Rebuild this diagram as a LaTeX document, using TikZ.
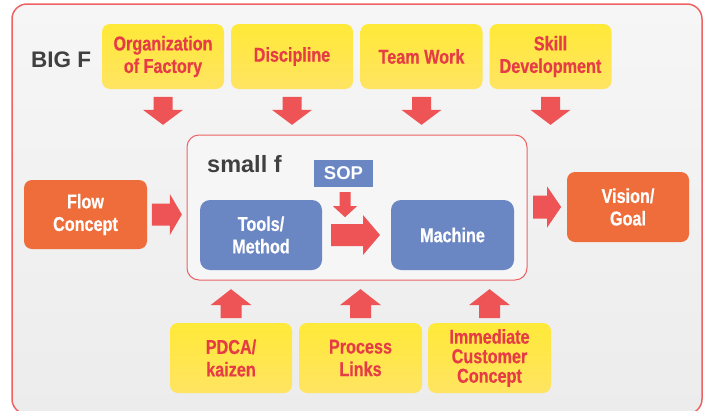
\documentclass[tikz,border=0pt]{standalone}
\usepackage{fontspec}
\setmainfont{Liberation Sans}
\newfontfamily\condf[FakeStretch=0.81,FakeBold=0.5]{Liberation Sans}
\usetikzlibrary{calc}
\definecolor{ytop}{HTML}{FFE938}
\definecolor{ybot}{HTML}{FFE462}
\definecolor{rtext}{HTML}{E63C46}
\definecolor{arrowred}{HTML}{EE5455}
\definecolor{orng}{HTML}{EE6D3A}
\definecolor{blu}{HTML}{6A86C3}
\definecolor{framered}{HTML}{EE6264}
\definecolor{dgray}{HTML}{404040}
\definecolor{bgA}{HTML}{F6F6F6}
\definecolor{bgB}{HTML}{ECECEC}
\tikzset{
  ybox/.style={rounded corners=8pt, top color=ytop, bottom color=ybot, draw=none,
    minimum width=122pt, minimum height=65pt, align=center, text=rtext, inner sep=0pt,
    font=\condf\bfseries\fontsize{20}{22.5}\selectfont},
  obox/.style={rounded corners=8pt, fill=orng, minimum width=122pt, minimum height=70pt,
    align=center, text=white, inner sep=0pt, font=\condf\bfseries\fontsize{20}{22.5}\selectfont},
  bbox/.style={rounded corners=10pt, fill=blu, minimum width=122pt, minimum height=70pt,
    align=center, text=white, inner sep=0pt, font=\condf\bfseries\fontsize{20}{22.5}\selectfont},
  title/.style={text=dgray, inner sep=0pt, anchor=base west, font=\bfseries\fontsize{22.5}{26}\selectfont},
  pics/barrow/.style args={#1/#2/#3/#4}{code={
    \fill[arrowred] (-#1/2,-#2/2) -- (#1/2-#4,-#2/2) -- (#1/2-#4,-#3/2) -- (#1/2,0)
      -- (#1/2-#4,#3/2) -- (#1/2-#4,#2/2) -- (-#1/2,#2/2) -- cycle;}}
}
\begin{document}
\begin{tikzpicture}[x=1pt,y=-1pt]
\useasboundingbox (0,0) rectangle (704,410);
% outer frame
\draw[framered, line width=1.5pt, rounded corners=15pt, top color=bgA, bottom color=bgB] (12,4) rectangle (702,414);
\node[title] (bigf) at (31,67) {BIG F};
% top boxes
\node[ybox] (org) at (163,56.5) {Organization\\of Factory};
\node[ybox] (disc) at (292,56.5) {Discipline};
\node[ybox] (team) at (421.5,56.5) {Team Work};
\node[ybox] (skill) at (550.5,56.5) {Skill\\Development};
% small f box
\node[draw=framered, line width=1pt, rounded corners=12pt, fill=bgA, minimum width=340pt, minimum height=145pt, inner sep=0pt] (smallf) at (357,207.5) {};
\node[title, font=\bfseries\fontsize{23.5}{27}\selectfont] (sft) at (207,172) {small f};
\node[fill=blu, minimum width=59pt, minimum height=27pt, inner sep=0pt, text=white, font=\bfseries\fontsize{18.5}{22}\selectfont] (sop) at (343.5,173.5) {SOP};
\node[bbox] (tools) at (261,235) {Tools/\\Method};
\node[bbox, minimum width=123pt] (machine) at (452.5,235) {Machine};
% side boxes
\node[obox, minimum width=123pt, minimum height=69pt] (flow) at (85.5,214.5) {Flow\\Concept};
\node[obox] (vision) at (628,207) {Vision/\\Goal};
% bottom boxes
\node[ybox, minimum height=70pt] (pdca) at (231,358) {PDCA/\\kaizen};
\node[ybox, minimum height=70pt, minimum width=123pt] (proc) at (360.5,358) {Process\\Links};
\node[ybox, minimum height=70pt, minimum width=123pt, font=\condf\bfseries\fontsize{20}{19.5}\selectfont] (imm) at (489.5,358) {Immediate\\Customer\\Concept};
% down arrows
\foreach \n in {org,disc,team,skill}
  \pic[rotate=-90] at ($(\n.south)!0.5!(\n.south|-smallf.north)+(0,-1)$) {barrow=28/19/40/15};
% up arrows
\foreach \n in {pdca,proc,imm}
  \pic[rotate=90] at ($(\n.north)!0.5!(\n.north|-smallf.south)+(0,2)$) {barrow=29/21/41/16};
% horizontal arrows
\pic at ($(flow.east)!0.5!(flow.east-|smallf.west)$) {barrow=30/22/41/12};
\pic at ($(smallf.east|-vision.west)!0.5!(vision.west)$) {barrow=28/23/41/14};
\pic at ($(tools.east)!0.5!(machine.west)+(-1,0)$) {barrow=49/22/40/17};
\pic[rotate=-90] at ($(sop.south)+(1.5,17.5)$) {barrow=25/11/24/11};
\end{tikzpicture}
\end{document}
